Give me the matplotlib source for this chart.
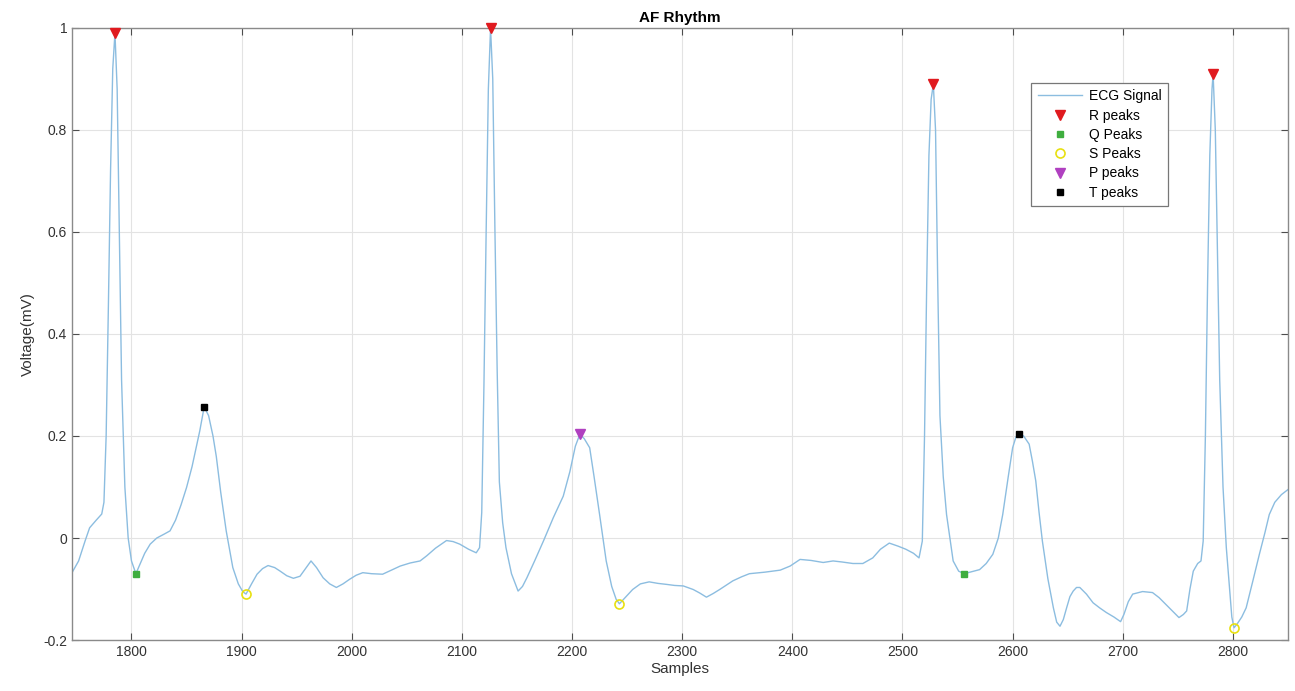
import matplotlib
matplotlib.use("Agg")
import matplotlib.pyplot as plt

plt.rcParams['font.family'] = ['Liberation Sans', 'DejaVu Sans']

# ECG signal (samples, mV)
sig_x = [1746, 1752, 1758, 1762, 1768, 1773, 1775, 1777, 1779, 1781, 1783, 1785, 1787, 1789, 1791, 1794, 1797, 1800,
         1804, 1808, 1812, 1817, 1823, 1830, 1835, 1840, 1845, 1850, 1855, 1859, 1862, 1866, 1870, 1874, 1877, 1881,
         1886, 1892, 1897, 1901, 1904, 1909, 1914, 1919, 1924, 1930, 1935, 1941, 1947, 1953, 1958, 1963, 1968, 1974,
         1980, 1986, 1992, 1998, 2004, 2010, 2018, 2028, 2036, 2044, 2053, 2062, 2068, 2076, 2086, 2092, 2098, 2106,
         2113, 2116, 2118, 2120, 2122, 2124, 2126, 2128, 2130, 2132, 2134, 2137, 2140, 2145, 2151, 2155, 2159, 2166,
         2174, 2183, 2192, 2198, 2203, 2207, 2211, 2216, 2220, 2225, 2231, 2236, 2240, 2243, 2249, 2255, 2262, 2270,
         2278, 2286, 2293, 2301, 2310, 2316, 2322, 2328, 2334, 2346, 2354, 2361, 2375, 2389, 2398, 2407, 2417, 2428,
         2437, 2445, 2455, 2464, 2473, 2480, 2488, 2496, 2503, 2510, 2515, 2518, 2520, 2522, 2524, 2526, 2528, 2530,
         2532, 2534, 2537, 2540, 2546, 2551, 2556, 2563, 2570, 2576, 2582, 2587, 2591, 2596, 2600, 2603, 2606, 2610,
         2615, 2618, 2621, 2624, 2627, 2632, 2637, 2640, 2643, 2646, 2649, 2652, 2655, 2658, 2661, 2667, 2673, 2679,
         2685, 2692, 2698, 2701, 2705, 2709, 2718, 2727, 2733, 2739, 2745, 2751, 2755, 2758, 2761, 2764, 2768, 2771,
         2773, 2775, 2777, 2779, 2781, 2782, 2784, 2786, 2788, 2791, 2794, 2797, 2799, 2801, 2804, 2808, 2812, 2818,
         2824, 2829, 2833, 2838, 2844, 2850]
sig_y = [-0.068, -0.045, -0.005, 0.02, 0.035, 0.047, 0.07, 0.2, 0.45, 0.72, 0.92, 0.99, 0.88, 0.6, 0.31, 0.1, 0.0, -0.045,
         -0.07, -0.05, -0.03, -0.012, 0.0, 0.008, 0.014, 0.035, 0.065, 0.099, 0.14, 0.18, 0.21, 0.257, 0.24, 0.2, 0.16, 0.09,
         0.014, -0.058, -0.09, -0.105, -0.11, -0.09, -0.071, -0.06, -0.054, -0.058, -0.065, -0.074, -0.079, -0.075, -0.06, -0.045, -0.058, -0.078,
         -0.09, -0.097, -0.09, -0.081, -0.073, -0.068, -0.07, -0.071, -0.063, -0.055, -0.049, -0.045, -0.035, -0.02, -0.005, -0.007, -0.012, -0.022,
         -0.029, -0.019, 0.05, 0.3, 0.6, 0.88, 1.0, 0.9, 0.6, 0.33, 0.11, 0.03, -0.019, -0.07, -0.104, -0.095, -0.078, -0.045,
         -0.006, 0.04, 0.082, 0.13, 0.18, 0.203, 0.195, 0.177, 0.12, 0.046, -0.045, -0.095, -0.12, -0.129, -0.115, -0.101, -0.09, -0.086,
         -0.089, -0.091, -0.093, -0.094, -0.101, -0.108, -0.116, -0.109, -0.101, -0.084, -0.076, -0.07, -0.067, -0.063, -0.055, -0.042, -0.044, -0.048,
         -0.045, -0.047, -0.05, -0.05, -0.039, -0.022, -0.010, -0.016, -0.022, -0.03, -0.039, -0.006, 0.2, 0.5, 0.75, 0.86, 0.89, 0.8,
         0.5, 0.24, 0.12, 0.046, -0.045, -0.065, -0.07, -0.066, -0.062, -0.05, -0.032, 0.0, 0.046, 0.12, 0.177, 0.198, 0.204, 0.2,
         0.184, 0.15, 0.112, 0.05, -0.006, -0.08, -0.137, -0.165, -0.173, -0.16, -0.137, -0.115, -0.104, -0.097, -0.097, -0.11, -0.127, -0.137,
         -0.146, -0.155, -0.164, -0.15, -0.125, -0.11, -0.105, -0.107, -0.117, -0.13, -0.143, -0.156, -0.15, -0.143, -0.1, -0.065, -0.05, -0.045,
         -0.006, 0.2, 0.5, 0.75, 0.88, 0.91, 0.8, 0.55, 0.31, 0.1, -0.019, -0.1, -0.155, -0.176, -0.168, -0.155, -0.137, -0.085,
         -0.032, 0.01, 0.046, 0.07, 0.085, 0.095]

r_x = [1785, 2126, 2528, 2782]
r_y = [0.99, 1.0, 0.89, 0.91]
q_x = [1804, 2556]
q_y = [-0.07, -0.07]
s_x = [1904, 2243, 2801]
s_y = [-0.11, -0.13, -0.176]
p_x = [2207]
p_y = [0.203]
t_x = [1866, 2606]
t_y = [0.257, 0.204]

x_ticks = [1800, 1900, 2000, 2100, 2200, 2300, 2400, 2500, 2600, 2700, 2800]
y_ticks = [-0.2, 0, 0.2, 0.4, 0.6, 0.8, 1]
y_tick_labels = ['-0.2', '0', '0.2', '0.4', '0.6', '0.8', '1']

fig = plt.figure(figsize=(12.95, 6.91), dpi=100)
ax = fig.add_axes([72/1295, 1 - 640/691, (1288 - 72)/1295, (640 - 28)/691])

ax.plot(sig_x, sig_y, color='#8cbde0', lw=1.0, label='ECG Signal', zorder=2)
ax.plot(r_x, r_y, 'v', color='#e01a1f', ms=6.5, ls='none', label='R peaks', zorder=4, clip_on=False)
ax.plot(q_x, q_y, 's', color='#3fae3f', ms=5, ls='none', label='Q Peaks', zorder=4, clip_on=False)
ax.plot(s_x, s_y, 'o', mfc='none', mec='#e8e010', mew=1.2, ms=6.5, ls='none', label='S Peaks', zorder=4, clip_on=False)
ax.plot(p_x, p_y, 'v', color='#b040c0', ms=6.5, ls='none', label='P peaks', zorder=4, clip_on=False)
ax.plot(t_x, t_y, 's', color='black', ms=4.5, ls='none', label='T peaks', zorder=4, clip_on=False)

ax.set_xlim(1746, 2850)
ax.set_ylim(-0.2, 1)
ax.set_xticks(x_ticks)
ax.set_yticks(y_ticks)
ax.set_yticklabels(y_tick_labels)
ax.grid(True, color='#e3e3e3', lw=0.8)
ax.set_axisbelow(True)
ax.tick_params(direction='in', top=True, right=True, length=5, width=0.8,
               colors='#4d4d4d', labelsize=10, labelcolor='#333333')
for sp in ax.spines.values():
    sp.set_color('#8a8a8a')
    sp.set_linewidth(1.0)

ax.set_title('AF Rhythm', fontsize=11, fontweight='bold', pad=4)
ax.set_xlabel('Samples', fontsize=11, color='#333333', labelpad=2)
ax.set_ylabel('Voltage(mV)', fontsize=11, color='#333333', labelpad=6)

leg = ax.legend(loc='upper left', bbox_to_anchor=(0.789, 0.910), fontsize=10,
                frameon=True, fancybox=False, edgecolor='#777777', framealpha=1,
                handlelength=3.2, borderpad=0.45, labelspacing=0.38, handletextpad=0.5,
                borderaxespad=0)
leg.get_frame().set_linewidth(0.9)

fig.savefig('out.png', dpi=100)
